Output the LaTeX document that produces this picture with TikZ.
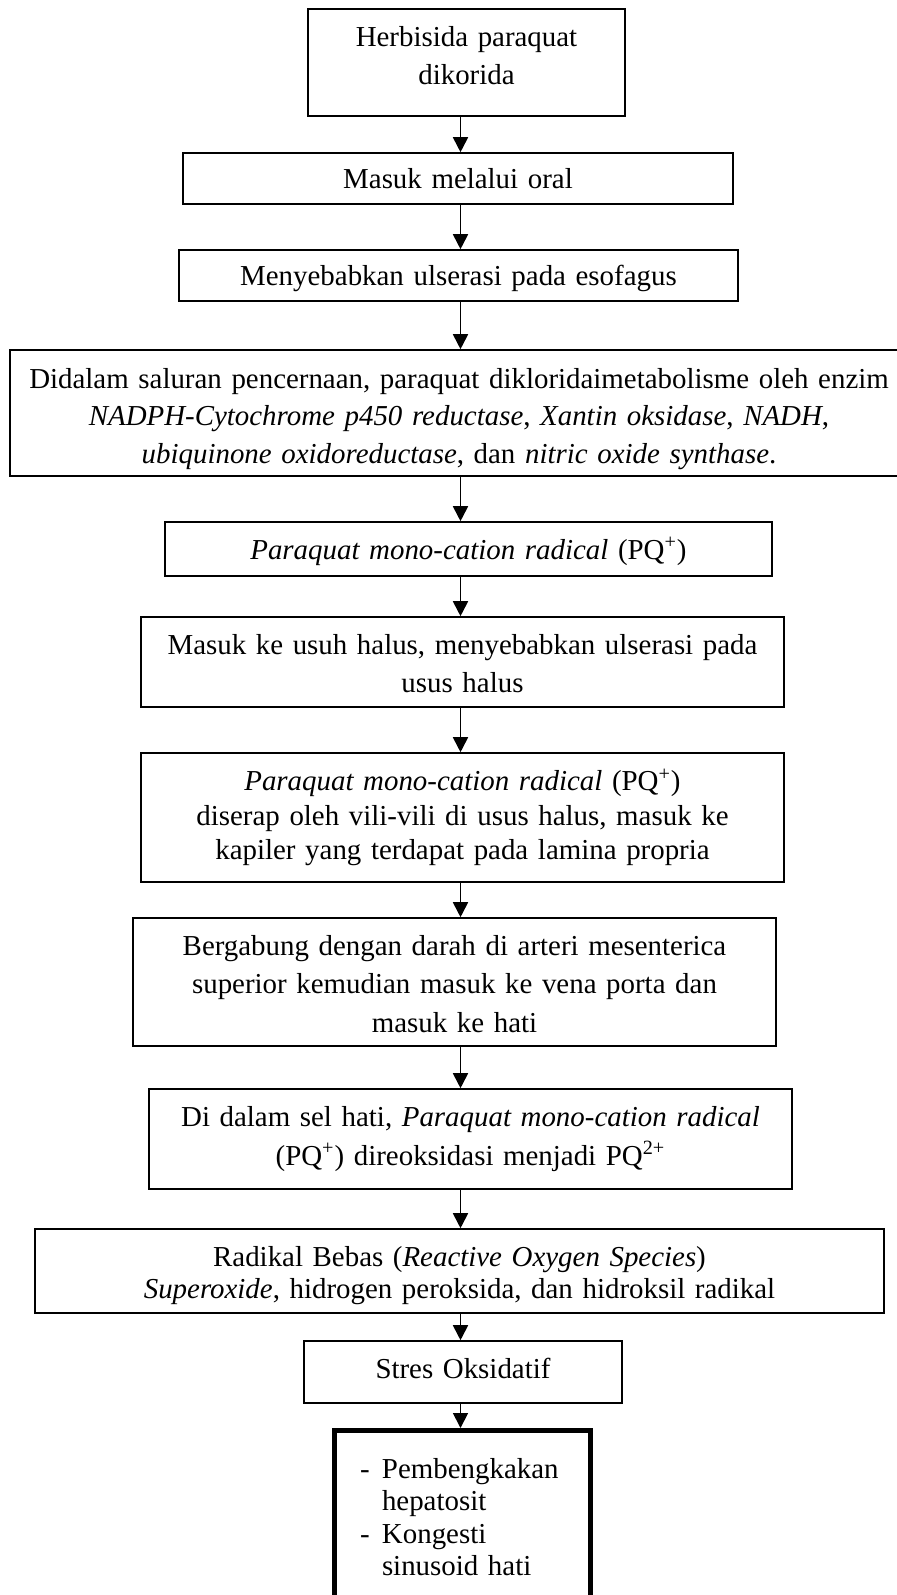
\documentclass[tikz,border=0pt]{standalone}
\usepackage{fontspec}
\setmainfont{Liberation Serif}
\usetikzlibrary{arrows.meta}

\begin{document}
\begin{tikzpicture}[x=0.5pt,y=-0.5pt,>={Triangle[length=7.5pt,width=7.5pt]},
  stage/.style={draw,line width=0.8pt,inner sep=0pt,align=center,text height=10pt,
    font=\fontsize{14.45}{#1}\selectfont},
  stage/.default=19,
  flow/.style={->,line width=0.9pt}]
  \useasboundingbox (0,0) rectangle (897,1595);
  \coordinate (ax) at (460.5,0);
  \node[stage,minimum width=158.5pt,minimum height=53.5pt,text width=152pt,text depth=25.8pt] (herbisida) at (466.5,62.5) {Herbisida paraquat\\dikorida};
  \node[stage,minimum width=275pt,minimum height=25.5pt,text width=268pt,text depth=-2.2pt] (oral) at (458,178.5) {Masuk melalui oral};
  \node[stage,minimum width=279.5pt,minimum height=25.5pt,text width=272pt,text depth=-1.5pt] (esofagus) at (458.5,275.5) {Menyebabkan ulserasi pada esofagus};
  \node[stage=18.7,minimum width=449pt,minimum height=63pt,text width=440pt,text depth=34.7pt] (enzim) at (459,413) {Didalam saluran pencernaan, paraquat dikloridaimetabolisme oleh enzim\\\textit{NADPH-Cytochrome p450 reductase}, \textit{Xantin oksidase}, \textit{NADH},\\\textit{ubiquinone oxidoreductase}, dan \textit{nitric oxide synthase}.};
  \node[stage,minimum width=303.5pt,minimum height=27pt,text width=296pt,text depth=-0.3pt] (pqa) at (468.5,549) {\textit{Paraquat mono-cation radical} (PQ\textsuperscript{+})};
  \node[stage=19.3,minimum width=321.5pt,minimum height=45pt,text width=314pt,text depth=18pt] (usus) at (462.5,662) {Masuk ke usuh halus, menyebabkan ulserasi pada\\usus halus};
  \node[stage=17.3,minimum width=321.5pt,minimum height=64.5pt,text width=314pt,text depth=36.8pt] (vili) at (462.5,817.5) {\textit{Paraquat mono-cation radical} (PQ\textsuperscript{+})\\diserap oleh vili-vili di usus halus, masuk ke\\kapiler yang terdapat pada lamina propria};
  \node[stage=19.4,minimum width=321.5pt,minimum height=64pt,text width=314pt,text depth=37pt] (vena) at (454.5,982) {Bergabung dengan darah di arteri mesenterica\\superior kemudian masuk ke vena porta dan\\masuk ke hati};
  \node[stage=19.2,minimum width=321.5pt,minimum height=50pt,text width=314pt,text depth=22.3pt] (selhati) at (470.5,1139) {Di dalam sel hati, \textit{Paraquat mono-cation radical}\\(PQ\textsuperscript{+}) direoksidasi menjadi PQ\textsuperscript{2+}};
  \node[stage=15.8,minimum width=424.5pt,minimum height=42pt,text width=416pt,text depth=14.3pt] (ros) at (459.5,1271) {Radikal Bebas (\textit{Reactive Oxygen Species})\\\textit{Superoxide}, hidrogen peroksida, dan hidroksil radikal};
  \node[stage,minimum width=159pt,minimum height=31pt,text width=152pt,text depth=3.7pt] (stres) at (463,1372) {Stres Oksidatif};
  \node[stage=16.2,line width=2.5pt,align=left,minimum width=128pt,minimum height=104.75pt,text width=102.5pt,text depth=67pt] (hepatosit) at (462.5,1535.25) {\makebox[11pt][l]{-}Pembengkakan\\\hspace*{11pt}hepatosit\\\makebox[11pt][l]{-}Kongesti\\\hspace*{11pt}sinusoid hati};
  \draw[flow] (herbisida.south -| ax) -- (oral.north -| ax);
  \draw[flow] (oral.south -| ax) -- (esofagus.north -| ax);
  \draw[flow] (esofagus.south -| ax) -- (enzim.north -| ax);
  \draw[flow] (enzim.south -| ax) -- (pqa.north -| ax);
  \draw[flow] (pqa.south -| ax) -- (usus.north -| ax);
  \draw[flow] (usus.south -| ax) -- (vili.north -| ax);
  \draw[flow] (vili.south -| ax) -- (vena.north -| ax);
  \draw[flow] (vena.south -| ax) -- (selhati.north -| ax);
  \draw[flow] (selhati.south -| ax) -- (ros.north -| ax);
  \draw[flow] (ros.south -| ax) -- (stres.north -| ax);
  \draw[flow] (stres.south -| ax) -- (hepatosit.north -| ax);
\end{tikzpicture}
\end{document}
